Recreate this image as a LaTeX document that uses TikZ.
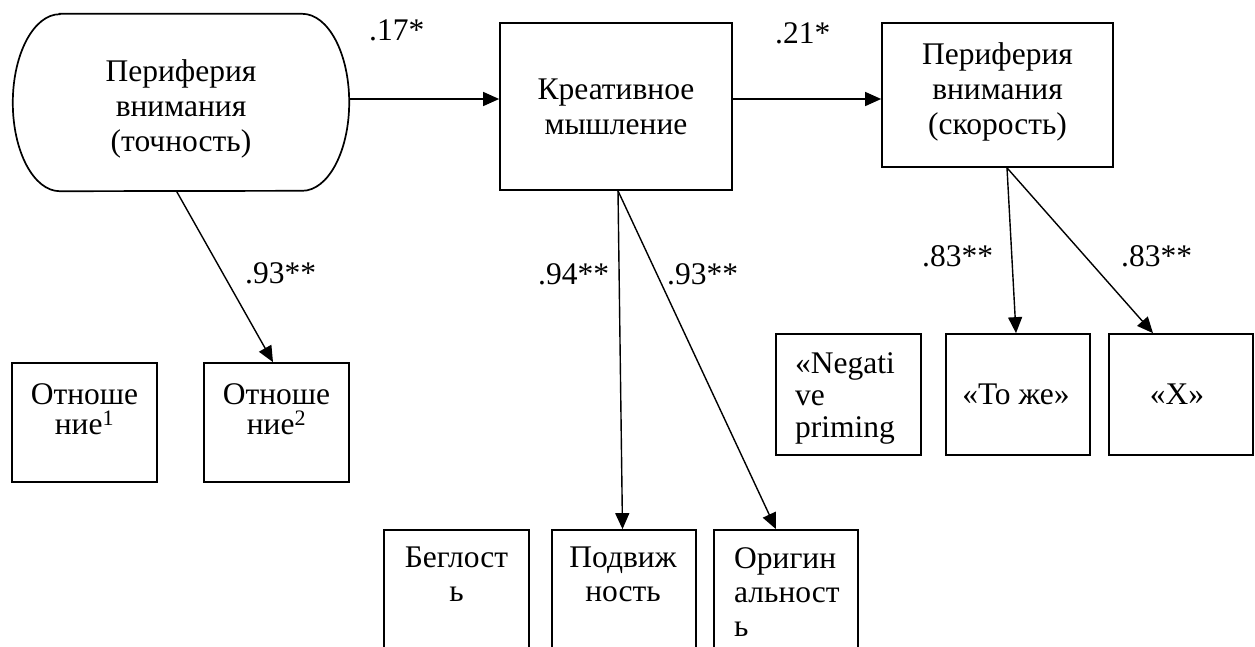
\documentclass[tikz,border=0pt]{standalone}
\usepackage{fontspec}
\setmainfont{Liberation Serif}
\usetikzlibrary{arrows.meta}
\begin{document}
\begin{tikzpicture}[x=1pt,y=-1pt,
  box/.style={draw, line width=1.7pt, inner sep=0pt, rectangle},
  shell/.style={inner sep=0pt, rectangle},
  lbl/.style={inner sep=0pt, anchor=base west, font=\fontsize{31.5}{35}\selectfont},
  txt/.style={inner sep=0pt, align=center, anchor=north, font=\fontsize{31.5}{35}\selectfont},
  ltxt/.style={inner sep=0pt, align=left, anchor=north west, font=\fontsize{31.5}{34}\selectfont},
  arr/.style={line width=1.4pt, -{Triangle[length=16pt,width=14pt]}}]

\useasboundingbox (0,0) rectangle (1255,646);
\clip (0,0) rectangle (1255,646);

% top row
\node[shell, minimum width=336pt, minimum height=177pt] (perA) at (181,102.5) {};
\draw[line width=1.7pt]
  ([xshift=47pt]perA.north west) -- ([xshift=-47pt]perA.north east)
  arc[start angle=90, end angle=-90, x radius=47pt, y radius=88.5pt]
  -- ([xshift=47pt]perA.south west)
  arc[start angle=270, end angle=90, x radius=47pt, y radius=88.5pt] -- cycle;
\node[txt] (perA-t) at (181,59) {Периферия\\внимания\\(точность)};

\node[box, minimum width=232pt, minimum height=167pt] (creat) at (616,106.5) {};
\node[txt] (creat-t) at (616,79) {Креативное\\мышление};

\node[box, minimum width=231pt, minimum height=144pt] (perB) at (997.5,95) {};
\node[txt] (perB-t) at (997.5,42) {Периферия\\внимания\\(скорость)};

% indicators of the first factor
\node[box, minimum width=145pt, minimum height=119pt] (rel1) at (84.5,422.5) {};
\node[txt, font=\fontsize{31.5}{30}\selectfont] (rel1-t) at (84.5,383) {Отноше\\ние\textsuperscript{1}};
\node[box, minimum width=145pt, minimum height=119pt] (rel2) at (276.5,422.5) {};
\node[txt, font=\fontsize{31.5}{30}\selectfont] (rel2-t) at (276.5,383) {Отноше\\ние\textsuperscript{2}};

% indicators of creative thinking
\node[box, minimum width=145pt, minimum height=170pt] (flu) at (456.5,615) {};
\node[txt, font=\fontsize{31.5}{34}\selectfont] (flu-t) at (456.5,547) {Беглост\\ь};
\node[box, minimum width=144pt, minimum height=170pt] (mob) at (624,615) {};
\node[txt, font=\fontsize{31.5}{34}\selectfont] (mob-t) at (623,547) {Подвиж\\ность};
\node[box, minimum width=144pt, minimum height=170pt] (orig) at (786,615) {};
\node[ltxt] (orig-t) at (734,547) {Оригин\\альност\\ь};

% indicators of the second factor
\node[box, minimum width=145pt, minimum height=121pt] (neg) at (848.5,394.5) {};
\node[ltxt, font=\fontsize{31.5}{32}\selectfont] (neg-t) at (795,352) {«Negati\\ve\\priming};
\node[box, minimum width=144pt, minimum height=121pt] (same) at (1018,394.5) {};
\node[txt] (same-t) at (1016,384) {«То же»};
\node[box, minimum width=144pt, minimum height=121pt] (xbox) at (1181,394.5) {};
\node[txt] (xbox-t) at (1177,384) {«X»};

% paths
\coordinate (h1) at (0,99);
\draw[arr] (perA.east |- h1) -- (creat.west |- h1);
\draw[arr] (creat.east |- h1) -- (perB.west |- h1);
\draw[arr] ([xshift=-4.5pt]perA.south) -- ([xshift=-3.5pt]rel2.north);
\draw[arr] ([xshift=2pt]creat.south) -- ([xshift=-1.5pt]mob.north);
\draw[arr] ([xshift=2pt]creat.south) -- ([xshift=-10pt]orig.north);
\draw[arr] ([xshift=9.5pt]perB.south) -- ([xshift=-2pt]same.north);
\draw[arr] ([xshift=9.5pt]perB.south) -- ([xshift=-28pt]xbox.north);

% loadings
\node[lbl] (c1) at (369,40) {.17*};
\node[lbl] (c2) at (775,43) {.21*};
\node[lbl] (c3) at (245,283) {.93**};
\node[lbl] (c4) at (538,284) {.94**};
\node[lbl] (c5) at (667,284) {.93**};
\node[lbl] (c6) at (922,266) {.83**};
\node[lbl] (c7) at (1121,266) {.83**};
\end{tikzpicture}
\end{document}
